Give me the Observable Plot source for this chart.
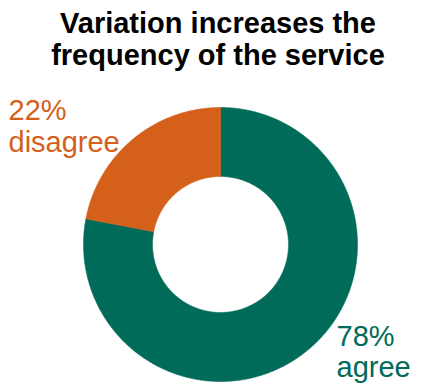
<!DOCTYPE html>
<html><head><meta charset="utf-8">
<script src="https://cdn.jsdelivr.net/npm/d3@7"></script>
<script src="https://cdn.jsdelivr.net/npm/@observablehq/plot@0.6"></script>
<style>
body{margin:0;background:#fff;font-family:"Liberation Sans",Arial,sans-serif;}
#title{width:441px;height:75px;box-sizing:border-box;padding-top:7px;padding-right:5px;text-align:center;font-weight:bold;font-size:29px;line-height:32px;color:#000;}
</style></head><body>
<div id="title">Variation increases the<br>frequency of the service</div>
<div id="chart"></div>
<script>
const categories = ["agree", "disagree"];
const percents = [78, 22];
const labelTexts = ["78%\nagree", "22%\ndisagree"];
const colors = ["#006b59", "#d4601a"];

const innerRatio = 68 / 137;
const pie = d3.pie().sort(null).startAngle(0).endAngle(2 * Math.PI);
const arcs = pie(percents);
const pts = [];
arcs.forEach((a, i) => {
  const span = a.endAngle - a.startAngle;
  const n = Math.max(2, Math.ceil(span / (Math.PI / 360)));
  const ring = [];
  for (let k = 0; k <= n; k++) {
    const t = a.startAngle + span * k / n;
    ring.push({category: categories[i], x: Math.sin(t), y: Math.cos(t)});
  }
  for (let k = n; k >= 0; k--) {
    const t = a.startAngle + span * k / n;
    ring.push({category: categories[i], x: innerRatio * Math.sin(t), y: innerRatio * Math.cos(t)});
  }
  ring.push({...ring[0]});
  pts.push(...ring);
});

const W = 441, H = 310, cx = 220, cy = 169, R = 137;
const chart = Plot.plot({
  width: W, height: H,
  margin: 0,
  style: {fontFamily: '"Liberation Sans", Arial, sans-serif', background: "#fff"},
  x: {domain: [-cx / R, (W - cx) / R], axis: null},
  y: {domain: [-(H - cy) / R, cy / R], axis: null},
  color: {domain: categories, range: colors},
  marks: [
    Plot.line(pts, {x: "x", y: "y", z: "category", fill: "category", stroke: "category", strokeWidth: 0.6, curve: "linear"}),
    Plot.text([labelTexts[1]], {text: d => d, frameAnchor: "top-left", textAnchor: "start", lineAnchor: "top", dx: 8, dy: 22, fill: colors[1], fontSize: 29, lineHeight: 1.1}),
    Plot.text([labelTexts[0]], {text: d => d, frameAnchor: "top-left", textAnchor: "start", lineAnchor: "top", dx: 336, dy: 248, fill: colors[0], fontSize: 29, lineHeight: 1.07})
  ]
});
document.getElementById("chart").appendChild(chart);
</script>
</body></html>
